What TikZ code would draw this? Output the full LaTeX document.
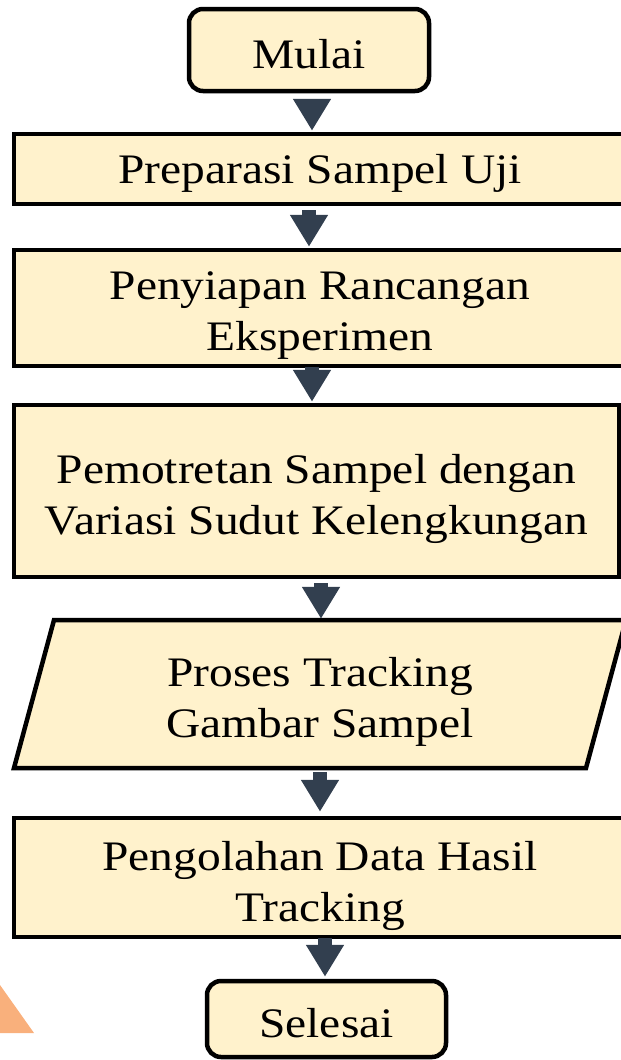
\documentclass[tikz,border=0pt]{standalone}
\usepackage{fontspec}
\setmainfont{Liberation Serif}[FakeStretch=1.13]
\usetikzlibrary{arrows.meta}
\definecolor{boxfill}{HTML}{FFF2CC}
\definecolor{arrowcol}{HTML}{323F4F}
\definecolor{tri}{HTML}{F9B07C}
\tikzset{
  txt/.style={font=\fontsize{42}{51}\selectfont, align=center, text=black, inner sep=0pt},
  sbox/.style={draw=black, fill=boxfill, line width=4.5pt, rectangle, inner sep=0pt},
  term/.style={sbox, rounded corners=14pt},
  conn/.style={draw=arrowcol, line width=14pt, -{Triangle[width=36pt,length=32pt]}},
  one/.style={txt, yshift=-4pt},
  two/.style={txt, yshift=-8pt},
}
\begin{document}
\begin{tikzpicture}[x=1pt,y=-1pt]
\useasboundingbox (0,0) rectangle (621,1060);
\fill[tri] (0,985) -- (34,1033) -- (-10,1033) -- cycle;

\node[term, minimum width=240pt, minimum height=82pt] (start) at (309,50) {};
\node[one] (startT) at (start) {Mulai};
\node[sbox, minimum width=612pt, minimum height=70pt] (prep) at (320,169) {};
\node[one] (prepT) at (prep) {Preparasi Sampel Uji};
\node[sbox, minimum width=612pt, minimum height=116pt] (design) at (320,308) {};
\node[two] (designT) at (design) {Penyiapan Rancangan\\Eksperimen};
\node[sbox, minimum width=605pt, minimum height=172pt] (photo) at (316.5,491) {};
\node[two] (photoT) at (photo) {Pemotretan Sampel dengan\\Variasi Sudut Kelengkungan};
\draw[line width=4.5pt, fill=boxfill] (14,768) -- (54,620) -- (626,620) -- (586,768) -- cycle;
\node[minimum width=572pt, minimum height=148pt, inner sep=0pt] (track) at (320,694) {};
\node[two] (trackT) at (track) {Proses Tracking\\Gambar Sampel};
\node[sbox, minimum width=612pt, minimum height=119pt] (data) at (320,877.5) {};
\node[two] (dataT) at (data) {Pengolahan Data Hasil\\Tracking};
\node[term, minimum width=239pt, minimum height=76pt] (end) at (326.5,1019) {};
\node[one] (endT) at (end) {Selesai};

\coordinate (c1) at (312,0);
\coordinate (c2) at (309,0);
\coordinate (c3) at (312,0);
\coordinate (c4) at (321,0);
\coordinate (c5) at (320,0);
\coordinate (c6) at (325,0);

\draw[conn] ([yshift=-6pt]start.south -| c1) -- ([yshift=1pt]prep.north -| c1);
\draw[conn] ([yshift=-4pt]prep.south -| c2) -- ([yshift=1pt]design.north -| c2);
\draw[conn] ([yshift=1pt]design.south -| c3) -- ([yshift=1pt]photo.north -| c3);
\draw[conn] ([yshift=-4pt]photo.south -| c4) -- ([yshift=1pt]track.north -| c4);
\draw[conn] ([yshift=-4pt]track.south -| c5) -- ([yshift=4pt]data.north -| c5);
\draw[conn] ([yshift=1pt]data.south -| c6) -- ([yshift=2pt]end.north -| c6);
\end{tikzpicture}
\end{document}
